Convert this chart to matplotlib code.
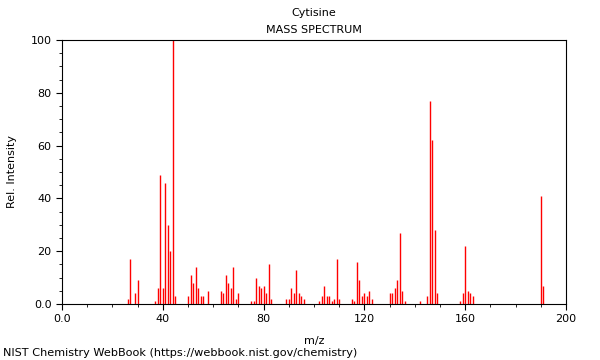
import matplotlib
matplotlib.use("Agg")
import matplotlib.pyplot as plt
from matplotlib.ticker import MultipleLocator

# peaks (m/z, relative intensity)
mz = [26, 27, 29, 30, 37, 38, 39, 40, 41, 42, 43, 44, 45,
      50, 51, 52, 53, 54, 55, 56, 58,
      63, 64, 65, 66, 67, 68, 69, 70,
      75, 76, 77, 78, 79, 80, 81, 82, 83,
      89, 90, 91, 92, 93, 94, 95, 96,
      102, 103, 104, 105, 106, 107, 108, 109, 110,
      115, 116, 117, 118, 119, 120, 121, 122, 123,
      130, 131, 132, 133, 134, 135, 136,
      142, 145, 146, 147, 148, 149,
      158, 159, 160, 161, 162, 163,
      190, 191]
intensity = [2, 17, 4, 9, 1, 6, 49, 6, 46, 30, 20, 100, 3,
             3, 11, 8, 14, 6, 3, 3, 5,
             5, 4, 11, 8, 6, 14, 2, 4,
             1, 1, 10, 7, 6, 7, 4, 15, 2,
             2, 2, 6, 4, 13, 4, 3, 2,
             1, 3, 7, 3, 3, 1, 2, 17, 2,
             2, 1, 16, 9, 3, 4, 3, 5, 2,
             4, 4, 6, 9, 27, 5, 1,
             1, 3, 77, 62, 28, 4,
             1, 4, 22, 5, 4, 3,
             41, 7]

fig = plt.figure(figsize=(6, 3.6), dpi=100)
ax = fig.add_axes([62/600, 56/360, 504/600, 264/360])

ax.vlines(mz, 0, intensity, colors="red", linewidth=1)

ax.set_xlim(0, 200)
ax.set_ylim(0, 100)
ax.xaxis.set_minor_locator(MultipleLocator(10))
ax.yaxis.set_minor_locator(MultipleLocator(5))
ax.set_xticks([0, 40, 80, 120, 160, 200], ["0.0", "40", "80", "120", "160", "200"])
ax.set_yticks([0, 20, 40, 60, 80, 100], ["0.0", "20", "40", "60", "80", "100"])
ax.tick_params(which="major", length=4, width=0.8, labelsize=8)
ax.tick_params(which="minor", length=2, width=0.6)
for s in ax.spines.values():
    s.set_linewidth(0.8)

ax.set_xlabel("m/z", fontsize=8, labelpad=8)
ax.set_ylabel("Rel. Intensity", fontsize=8, labelpad=10)

# titles sit centred over the axes, not the figure
fig.text(314/600, 1 - 13/360, "Cytisine", ha="center", va="center", fontsize=8)
fig.text(314/600, 1 - 30/360, "MASS SPECTRUM", ha="center", va="center", fontsize=8)
fig.text(3/600, 1 - 353/360, "NIST Chemistry WebBook (https://webbook.nist.gov/chemistry)",
         ha="left", va="center", fontsize=8.15)

fig.savefig("out.png", dpi=100)
